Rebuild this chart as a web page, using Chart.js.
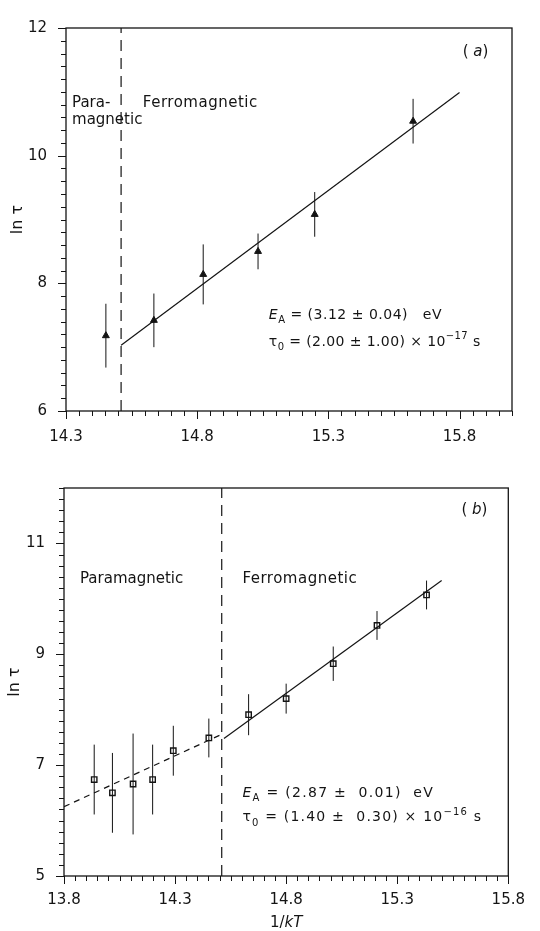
<!DOCTYPE html>
<html lang="en">
<head>
<meta charset="utf-8">
<title>ln tau vs 1/kT</title>
<script src="https://cdn.jsdelivr.net/npm/chart.js"></script>
<style>
  body { margin: 0; background: #fff; }
  #wrap { position: relative; width: 540px; height: 931px; }
  canvas { position: absolute; left: 0; display: block; }
</style>
</head>
<body>
<div id="wrap">
  <canvas id="chartA" width="540" height="460" style="top:0"></canvas>
  <canvas id="chartB" width="540" height="471" style="top:460px"></canvas>
</div>
<script>
// panel (a)
const xA = [14.452, 14.635, 14.823, 15.032, 15.248, 15.623];
const yA = [7.18, 7.42, 8.14, 8.50, 9.08, 10.54];
const errA = [0.50, 0.42, 0.47, 0.28, 0.35, 0.35];
const fitXA = [14.51, 15.80];
const fitYA = [7.03, 10.99];
const transA = 14.51;
const xTicksA = [14.3, 14.8, 15.3, 15.8];
const yTicksA = [6, 8, 10, 12];

// panel (b)
const xB = [13.936, 14.018, 14.111, 14.199, 14.292, 14.452, 14.631, 14.80, 15.012, 15.209, 15.432];
const yB = [6.74, 6.50, 6.66, 6.74, 7.26, 7.49, 7.91, 8.20, 8.83, 9.52, 10.07];
const errB = [0.63, 0.72, 0.91, 0.63, 0.45, 0.35, 0.37, 0.27, 0.31, 0.26, 0.26];
const paraFitXB = [13.8, 14.507];
const paraFitYB = [6.25, 7.55];
const ferroFitXB = [14.52, 15.50];
const ferroFitYB = [7.48, 10.33];
const transB = 14.51;
const xTicksB = [13.8, 14.3, 14.8, 15.3, 15.8];
const yTicksB = [5, 7, 9, 11];

const ink = '#141414';
const FONT = '"DejaVu Sans", sans-serif';

function pts(xs, ys) {
  return xs.map((x, i) => ({x: x, y: ys[i]}));
}

function errorBars(xs, ys, es) {
  return xs.map((x, i) => ({
    data: [{x: x, y: ys[i] - es[i]}, {x: x, y: ys[i] + es[i]}],
    showLine: true, borderColor: ink, borderWidth: 1, pointRadius: 0
  }));
}

function lineSet(xs, ys, dash) {
  return {
    data: pts(xs, ys), showLine: true, borderColor: ink, borderWidth: 1.2,
    borderDash: dash || [], pointRadius: 0
  };
}

function drawRich(ctx, x, y, parts, size) {
  let cx = x;
  parts.forEach(p => {
    const fs = (p.sub || p.sup) ? Math.round(size * 0.72) : size;
    ctx.font = (p.it ? 'italic ' : '') + fs + 'px ' + FONT;
    const dy = p.sub ? size * 0.38 : (p.sup ? -size * 0.42 : 0);
    ctx.fillText(p.t, cx, y + dy);
    cx += ctx.measureText(p.t).width;
  });
}

// frame, minor/major ticks, text
const decor = {
  id: 'decor',
  afterDraw(chart, args, o) {
    const ctx = chart.ctx, a = chart.chartArea;
    const sx = chart.scales.x, sy = chart.scales.y;
    ctx.save();
    ctx.strokeStyle = ink;
    ctx.lineWidth = 1.3;
    ctx.strokeRect(a.left, a.top, a.right - a.left, a.bottom - a.top);
    ctx.lineWidth = 1;
    ctx.beginPath();
    let n = Math.round((sx.max - sx.min) / o.xMinor);
    for (let i = 0; i <= n; i++) {
      const v = sx.min + i * o.xMinor;
      const major = o.xMajor.some(t => Math.abs(t - v) < 1e-6);
      const px = Math.round(sx.getPixelForValue(v)) + 0.5;
      ctx.moveTo(px, a.bottom);
      ctx.lineTo(px, a.bottom + (major ? 8 : 5));
    }
    n = Math.round((sy.max - sy.min) / o.yMinor);
    for (let i = 0; i <= n; i++) {
      const v = sy.min + i * o.yMinor;
      const major = o.yMajor.some(t => Math.abs(t - v) < 1e-6);
      const py = Math.round(sy.getPixelForValue(v)) + 0.5;
      ctx.moveTo(a.left, py);
      ctx.lineTo(a.left - (major ? 8 : 5), py);
    }
    ctx.stroke();

    ctx.fillStyle = ink;
    ctx.textBaseline = 'middle';
    ctx.textAlign = 'left';
    o.notes.forEach(t => {
      ctx.letterSpacing = t.ls || '0px';
      drawRich(ctx, sx.getPixelForValue(t.x), sy.getPixelForValue(t.y), t.parts, t.size || 15);
    });
    ctx.letterSpacing = '0px';

    // y title
    ctx.save();
    ctx.translate(o.yTitleX, (a.top + a.bottom) / 2);
    ctx.rotate(-Math.PI / 2);
    ctx.textAlign = 'center';
    ctx.font = '16px ' + FONT;
    ctx.fillText('ln \u03c4', 0, 0);
    ctx.restore();

    if (o.xTitle) {
      const cx = sx.getPixelForValue(14.8);
      ctx.font = '15px ' + FONT;
      const w1 = ctx.measureText('1/').width;
      ctx.font = 'italic 15px ' + FONT;
      const w2 = ctx.measureText('kT').width;
      drawRich(ctx, cx - (w1 + w2) / 2, a.bottom + 47, [{t: '1/'}, {t: 'kT', it: true}], 15);
    }
    ctx.restore();
  }
};

function makeChart(id, cfg) {
  return new Chart(document.getElementById(id).getContext('2d'), {
    type: 'scatter',
    data: { datasets: cfg.datasets },
    options: {
      responsive: false,
      animation: false,
      layout: { padding: cfg.pad },
      plugins: { legend: { display: false }, tooltip: { enabled: false }, decor: cfg.decor },
      scales: {
        x: {
          type: 'linear', min: cfg.xMin, max: cfg.xMax,
          grid: { display: false, drawTicks: false }, border: { display: false },
          afterBuildTicks: s => { s.ticks = cfg.xTicks.map(v => ({value: v})); },
          afterFit: s => { s.height = cfg.xH; },
          ticks: { padding: cfg.xPad, color: ink, font: { family: FONT, size: 15 }, maxRotation: 0,
                   autoSkip: false, callback: v => v.toFixed(1) }
        },
        y: {
          type: 'linear', min: cfg.yMin, max: cfg.yMax,
          grid: { display: false, drawTicks: false }, border: { display: false },
          afterBuildTicks: s => { s.ticks = cfg.yTicks.map(v => ({value: v})); },
          afterFit: s => { s.width = cfg.yW; },
          ticks: { padding: 19, color: ink, font: { family: FONT, size: 15 },
                   callback: v => String(v) }
        }
      }
    },
    plugins: [decor]
  });
}

const EA = v => [{t: 'E', it: true}, {t: 'A', sub: true}, {t: v}];
const T0 = (v, e) => [{t: '\u03c4'}, {t: '0', sub: true}, {t: v}, {t: e, sup: true}, {t: ' s'}];

makeChart('chartA', {
  xMin: 14.3, xMax: 16.0, yMin: 6, yMax: 12,
  xTicks: xTicksA, yTicks: yTicksA,
  pad: { top: 18, right: 28, left: 0, bottom: 0 },
  xH: 49, yW: 66, xPad: 17,
  datasets: [
    lineSet([transA, transA], [6, 12], [11, 7]),
    lineSet(fitXA, fitYA),
    ...errorBars(xA, yA, errA),
    { data: pts(xA, yA), pointStyle: 'triangle', pointRadius: 4, backgroundColor: ink, borderColor: ink, borderWidth: 1 }
  ],
  decor: {
    xMinor: 0.05, yMinor: 0.2, xMajor: xTicksA, yMajor: yTicksA, yTitleX: 18,
    notes: [
      { x: 14.323, y: 10.82, parts: [{t: 'Para-'}] },
      { x: 14.323, y: 10.55, parts: [{t: 'magnetic'}] },
      { x: 14.593, y: 10.82, ls: '0.5px', parts: [{t: 'Ferromagnetic'}] },
      { x: 15.812, y: 11.63, parts: [{t: '( '}, {t: 'a', it: true}, {t: ')'}] },
      { x: 15.073, y: 7.50, size: 14, ls: '0.5px', parts: EA(' = (3.12 \u00b1 0.04)   eV') },
      { x: 15.073, y: 7.08, size: 14, ls: '0.4px', parts: T0(' = (2.00 \u00b1 1.00) \u00d7 10', '\u221217') }
    ]
  }
});

makeChart('chartB', {
  xMin: 13.8, xMax: 15.8, yMin: 5, yMax: 12,
  xTicks: xTicksB, yTicks: yTicksB,
  pad: { top: 23, right: 30, left: 0, bottom: 0 },
  xH: 55, yW: 64, xPad: 15,
  datasets: [
    lineSet([transB, transB], [5, 12], [11, 7]),
    lineSet(paraFitXB, paraFitYB, [6, 5]),
    lineSet(ferroFitXB, ferroFitYB),
    ...errorBars(xB, yB, errB),
    { data: pts(xB, yB), pointStyle: 'rect', pointRadius: 3.8, backgroundColor: '#fff', borderColor: ink, borderWidth: 1.4 }
  ],
  decor: {
    xMinor: 0.05, yMinor: 0.2, xMajor: xTicksB, yMajor: yTicksB, yTitleX: 15, xTitle: true,
    notes: [
      { x: 13.872, y: 10.36, parts: [{t: 'Paramagnetic'}] },
      { x: 14.603, y: 10.36, ls: '0.5px', parts: [{t: 'Ferromagnetic'}] },
      { x: 15.589, y: 11.60, parts: [{t: '( '}, {t: 'b', it: true}, {t: ')'}] },
      { x: 14.603, y: 6.49, size: 14, ls: '1.3px', parts: EA(' = (2.87 \u00b1  0.01)  eV') },
      { x: 14.603, y: 6.05, size: 14, ls: '1.2px', parts: T0(' = (1.40 \u00b1  0.30) \u00d7 10', '\u221216') }
    ]
  }
});
</script>
</body>
</html>
